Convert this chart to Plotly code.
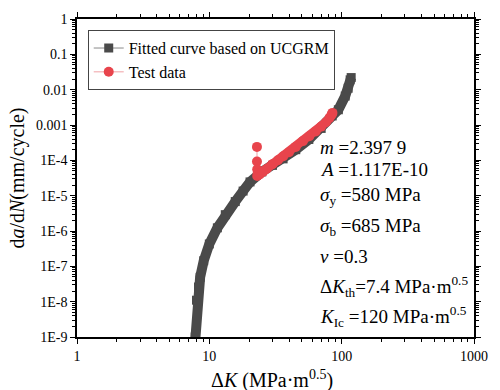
import plotly.graph_objects as go

# Fitted curve (UCGRM): dK (MPa·m^0.5), da/dN (mm/cycle)
fit_dk = [7.75, 7.82, 8.0, 8.28, 8.52, 9.07, 10.0, 11.5, 13.2, 15.7, 18.0, 20.3, 24.9,
          30.0, 36.1, 45.0, 56.5, 70.0, 84.8, 94.4, 106.4, 112.0, 115.9, 118.0]
fit_rate = [5e-10, 1e-9, 1.1e-8, 2.6e-8, 4.9e-8, 1.44e-7, 4.3e-7, 1.23e-6, 2.9e-6, 6.8e-6,
            1.35e-5, 2.45e-5, 4.7e-5, 7.2e-5, 1.1e-4, 2.0e-4, 3.9e-4, 8.0e-4, 1.8e-3,
            2.7e-3, 6.6e-3, 1.1e-2, 1.9e-2, 2.2e-2]

# Test data
test_dk = [22.9, 22.9, 23.0, 23.0, 23.2, 24.0, 25.5, 27.1, 30.0, 33.0, 36.2, 40.0, 45.0,
           51.0, 57.0, 63.7, 70.0, 76.0, 81.0, 84.0, 85.2]
test_rate = [2.4e-4, 9.3e-5, 5.6e-5, 3.6e-5, 4.4e-5, 4.0e-5, 4.8e-5, 5.7e-5, 7.8e-5, 1.0e-4,
             1.3e-4, 1.7e-4, 2.4e-4, 3.5e-4, 4.8e-4, 6.6e-4, 9.0e-4, 1.2e-3, 1.6e-3,
             1.95e-3, 2.2e-3]

x_ticks = [1, 10, 100, 1000]
x_ticktext = ["1", "10", "100", "1000"]
y_ticks = [1, 0.1, 0.01, 0.001, 1e-4, 1e-5, 1e-6, 1e-7, 1e-8, 1e-9]
y_ticktext = ["1", "0.1", "0.01", "0.001", "1E-4", "1E-5", "1E-6", "1E-7", "1E-8", "1E-9"]

params = [
    "<i>m</i> =2.397 9",
    "<i>A</i> =1.117E-10",
    "<i>σ</i><sub>y</sub> =580 MPa",
    "<i>σ</i><sub>b</sub> =685 MPa",
    "<i>ν</i> =0.3",
    "Δ<i>K</i><sub>th</sub>=7.4 MPa·m<sup>0.5</sup>",
    "<i>K</i><sub>Ic</sub> =120 MPa·m<sup>0.5</sup>",
]
param_y = [0.597, 0.526, 0.443, 0.345, 0.252, 0.158, 0.066]

FONT = "Liberation Serif, Times New Roman, serif"
DARK = "#4a4a4a"
RED = "#e8444c"

fig = go.Figure()
fig.add_trace(go.Scatter(x=fit_dk, y=fit_rate, mode="lines+markers",
                         name="Fitted curve based on UCGRM",
                         line=dict(color="#8a8a8a", width=1),
                         marker=dict(symbol="square", size=9, color=DARK)))
# band of dense fitted markers
fig.add_trace(go.Scatter(x=fit_dk, y=fit_rate, mode="lines",
                         line=dict(color=DARK, width=10), showlegend=False,
                         hoverinfo="skip"))
fig.add_trace(go.Scatter(x=test_dk, y=test_rate, mode="lines+markers",
                         name="Test data",
                         line=dict(color="#f0a0a4", width=1),
                         marker=dict(symbol="circle", size=10, color=RED)))
fig.add_trace(go.Scatter(x=test_dk[4:], y=test_rate[4:], mode="lines",
                         line=dict(color=RED, width=9), showlegend=False,
                         hoverinfo="skip"))

for t, yy in zip(params, param_y):
    fig.add_annotation(x=0.606, y=yy, xref="paper", yref="paper", text=t,
                       showarrow=False, xanchor="left", yanchor="middle",
                       font=dict(family=FONT, size=19, color="black"))

# x-axis title
fig.add_annotation(x=0.49, y=-0.135, xref="paper", yref="paper",
                   text="Δ<i>K</i> (MPa·m<sup>0.5</sup>)", showarrow=False,
                   xanchor="center", yanchor="middle",
                   font=dict(family=FONT, size=20, color="black"))

axis_common = dict(showgrid=False, zeroline=False, showline=True, linecolor="black",
                   linewidth=1.5, ticks="outside", ticklen=5, tickwidth=1,
                   tickcolor="black", mirror="allticks",
                   tickfont=dict(family=FONT, size=14, color="black"),
                   minor=dict(ticks="outside", ticklen=3, tickcolor="black",
                              dtick="D1", showgrid=False))

fig.update_xaxes(type="log", range=[0, 3], tickvals=x_ticks, ticktext=x_ticktext,
                 **axis_common)
fig.update_yaxes(type="log", range=[-9, 0], tickvals=y_ticks, ticktext=y_ticktext,
                 title=dict(text="d<i>a</i>/d<i>N</i>(mm/cycle)",
                            font=dict(family=FONT, size=20, color="black"),
                            standoff=6),
                 **axis_common)

fig.update_layout(
    width=500, height=390,
    margin=dict(l=77, r=19, t=15, b=53),
    paper_bgcolor="white", plot_bgcolor="white",
    font=dict(family=FONT, color="black"),
    legend=dict(x=0.027, y=0.965, xanchor="left", yanchor="top",
                bgcolor="white", bordercolor="#444", borderwidth=1,
                font=dict(family=FONT, size=16, color="black"),
                tracegroupgap=0, itemwidth=30),
)

fig.write_html("out.html")
